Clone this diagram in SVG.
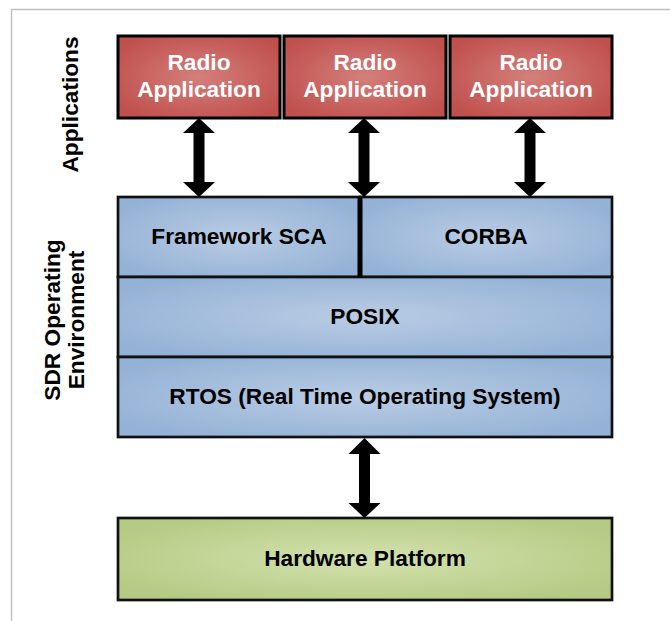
<svg xmlns="http://www.w3.org/2000/svg" width="670" height="621" viewBox="0 0 670 621">
<defs>
<radialGradient id="gRed" cx="0.5" cy="0.5" r="0.6">
<stop offset="0" stop-color="#d47f7b"/>
<stop offset="1" stop-color="#c0504d"/>
</radialGradient>
<radialGradient id="gBlue" cx="0.5" cy="0.5" r="0.6">
<stop offset="0" stop-color="#b9cce4"/>
<stop offset="1" stop-color="#94b2d6"/>
</radialGradient>
<radialGradient id="gGreen" cx="0.5" cy="0.5" r="0.6">
<stop offset="0" stop-color="#d3e2ae"/>
<stop offset="1" stop-color="#b5ca83"/>
</radialGradient>
<style>
.t{font-family:"Liberation Sans",Arial,sans-serif;font-weight:bold;font-size:22.7px;text-anchor:middle}
.w{fill:#ffffff}
.k{fill:#000000}
.red{fill:url(#gRed);stroke:#000;stroke-width:3}
.blue{fill:url(#gBlue);stroke:#111;stroke-width:2.7}
.green{fill:url(#gGreen);stroke:#111;stroke-width:2.7}
.arr{fill:#000}
</style>
</defs>
<rect width="670" height="621" fill="#ffffff"/>
<path d="M11.5,621 V9.5 H670" fill="none" stroke="#c0c0c0" stroke-width="1.5"/>

<g id="label-applications">
<text class="t k" transform="translate(78,104.5) rotate(-90)">Applications</text>
</g>
<g id="label-sdr">
<text class="t k" transform="translate(60,320) rotate(-90)">SDR Operating</text>
<text class="t k" transform="translate(84,320) rotate(-90)">Environment</text>
</g>

<g id="radio1">
<rect class="red" x="118" y="36" width="162" height="82"/>
<text class="t w" x="199" y="70">Radio</text>
<text class="t w" x="199" y="97">Application</text>
</g>
<g id="radio2">
<rect class="red" x="284" y="36" width="162" height="82"/>
<text class="t w" x="365" y="70">Radio</text>
<text class="t w" x="365" y="97">Application</text>
</g>
<g id="radio3">
<rect class="red" x="450" y="36" width="162" height="82"/>
<text class="t w" x="531" y="70">Radio</text>
<text class="t w" x="531" y="97">Application</text>
</g>

<g id="framework">
<rect class="blue" x="118" y="197" width="242" height="80"/>
<text class="t k" x="239" y="244">Framework SCA</text>
</g>
<g id="corba">
<rect class="blue" x="360" y="197" width="252" height="80"/>
<text class="t k" x="486" y="244">CORBA</text>
</g>
<g id="posix">
<rect class="blue" x="118" y="277" width="494" height="80"/>
<text class="t k" x="365" y="324">POSIX</text>
</g>
<g id="rtos">
<rect class="blue" x="118" y="357" width="494" height="80"/>
<text class="t k" x="365" y="404">RTOS (Real Time Operating System)</text>
</g>
<line x1="360" y1="197" x2="360" y2="277" stroke="#000" stroke-width="5"/>

<g id="hardware">
<rect class="green" x="118" y="518" width="494" height="82"/>
<text class="t k" x="365" y="566">Hardware Platform</text>
</g>

<g id="connectors">
<path class="arr" d="M199,118 L215,133 L204.5,133 L204.5,182 L215,182 L199,197 L183,182 L193.5,182 L193.5,133 L183,133 Z"/>
<path class="arr" d="M364,118 L380,133 L369.5,133 L369.5,182 L380,182 L364,197 L348,182 L358.5,182 L358.5,133 L348,133 Z"/>
<path class="arr" d="M530,118 L546,133 L535.5,133 L535.5,182 L546,182 L530,197 L514,182 L524.5,182 L524.5,133 L514,133 Z"/>
<path class="arr" d="M364.5,438 L380.5,454 L370,454 L370,503 L380.5,503 L364.5,518 L348.5,503 L359,503 L359,454 L348.5,454 Z"/>
</g>
</svg>
